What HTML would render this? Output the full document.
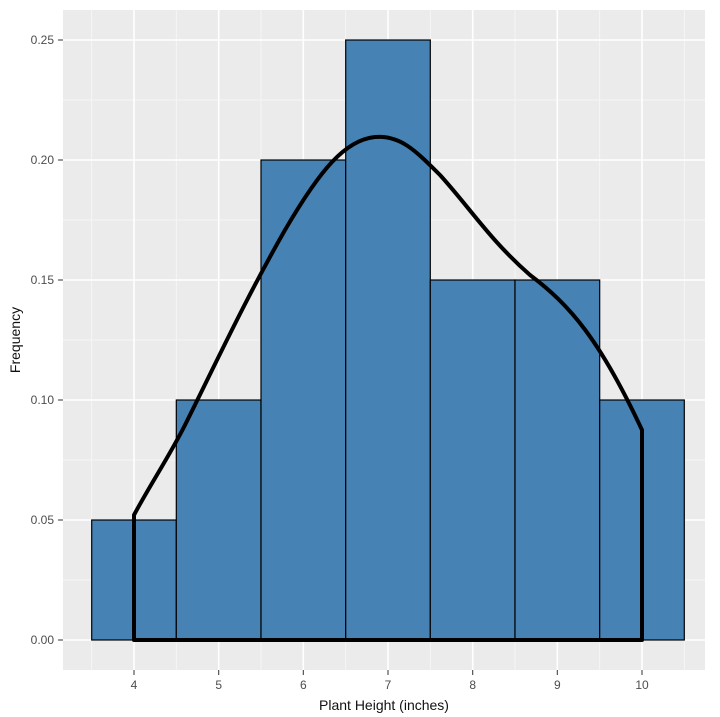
<!DOCTYPE html>
<html><head><style>body{margin:0;background:#fff}svg{display:block}</style></head><body>
<svg width="720" height="717" xmlns="http://www.w3.org/2000/svg" font-family="Liberation Sans, sans-serif">
<rect x="63" y="10" width="642" height="660" fill="#EBEBEB"/>
<g stroke="#F7F7F7" stroke-width="0.8">
<line x1="63" x2="705" y1="580" y2="580"/><line x1="63" x2="705" y1="460" y2="460"/><line x1="63" x2="705" y1="340" y2="340"/><line x1="63" x2="705" y1="220" y2="220"/><line x1="63" x2="705" y1="100" y2="100"/>
<line y1="10" y2="670" x1="91.7" x2="91.7"/><line y1="10" y2="670" x1="176.3" x2="176.3"/><line y1="10" y2="670" x1="261" x2="261"/><line y1="10" y2="670" x1="345.7" x2="345.7"/><line y1="10" y2="670" x1="430.3" x2="430.3"/><line y1="10" y2="670" x1="515" x2="515"/><line y1="10" y2="670" x1="599.7" x2="599.7"/><line y1="10" y2="670" x1="684.3" x2="684.3"/>
</g>
<g stroke="#fff" stroke-width="1.6">
<line x1="63" x2="705" y1="640" y2="640"/><line x1="63" x2="705" y1="520" y2="520"/><line x1="63" x2="705" y1="400" y2="400"/><line x1="63" x2="705" y1="280" y2="280"/><line x1="63" x2="705" y1="160" y2="160"/><line x1="63" x2="705" y1="40" y2="40"/>
<line y1="10" y2="670" x1="134" x2="134"/><line y1="10" y2="670" x1="218.7" x2="218.7"/><line y1="10" y2="670" x1="303.3" x2="303.3"/><line y1="10" y2="670" x1="388" x2="388"/><line y1="10" y2="670" x1="472.7" x2="472.7"/><line y1="10" y2="670" x1="557.3" x2="557.3"/><line y1="10" y2="670" x1="642" x2="642"/>
</g>
<g fill="#4682B4" stroke="#000" stroke-width="1.2">
<rect x="91.7" y="520" width="84.6" height="120"/>
<rect x="176.3" y="400" width="84.7" height="240"/>
<rect x="261" y="160" width="84.7" height="480"/>
<rect x="345.7" y="40" width="84.6" height="600"/>
<rect x="430.3" y="280" width="84.7" height="360"/>
<rect x="515" y="280" width="84.7" height="360"/>
<rect x="599.7" y="400" width="84.6" height="240"/>
</g>
<path d="M134,640 L134,515 C150,485 170,455 185,425 C215,365 245,300 285,230 C320,170 345,140 375,137 C400,135 415,150 440,175 C470,208 490,240 530,275 C570,305 600,340 642,430 L642,640 Z" fill="none" stroke="#000" stroke-width="4" stroke-linejoin="round"/>
<g font-size="12" fill="#4D4D4D" text-anchor="end">
<text x="54" y="644">0.00</text><text x="54" y="524">0.05</text><text x="54" y="404">0.10</text><text x="54" y="284">0.15</text><text x="54" y="164">0.20</text><text x="54" y="44">0.25</text>
</g>
<g stroke="#333" stroke-width="1">
<line x1="58" x2="63" y1="640" y2="640"/><line x1="58" x2="63" y1="520" y2="520"/><line x1="58" x2="63" y1="400" y2="400"/><line x1="58" x2="63" y1="280" y2="280"/><line x1="58" x2="63" y1="160" y2="160"/><line x1="58" x2="63" y1="40" y2="40"/>
<line y1="670" y2="675" x1="134" x2="134"/><line y1="670" y2="675" x1="218.7" x2="218.7"/><line y1="670" y2="675" x1="303.3" x2="303.3"/><line y1="670" y2="675" x1="388" x2="388"/><line y1="670" y2="675" x1="472.7" x2="472.7"/><line y1="670" y2="675" x1="557.3" x2="557.3"/><line y1="670" y2="675" x1="642" x2="642"/>
</g>
<g font-size="12" fill="#4D4D4D" text-anchor="middle">
<text x="134" y="689">4</text><text x="218.7" y="689">5</text><text x="303.3" y="689">6</text><text x="388" y="689">7</text><text x="472.7" y="689">8</text><text x="557.3" y="689">9</text><text x="642" y="689">10</text>
</g>
<text x="384" y="710" font-size="14" text-anchor="middle" fill="#111">Plant Height (inches)</text>
<text transform="translate(20,340) rotate(-90)" font-size="14" text-anchor="middle" fill="#111">Frequency</text>
</svg>
</body></html>
